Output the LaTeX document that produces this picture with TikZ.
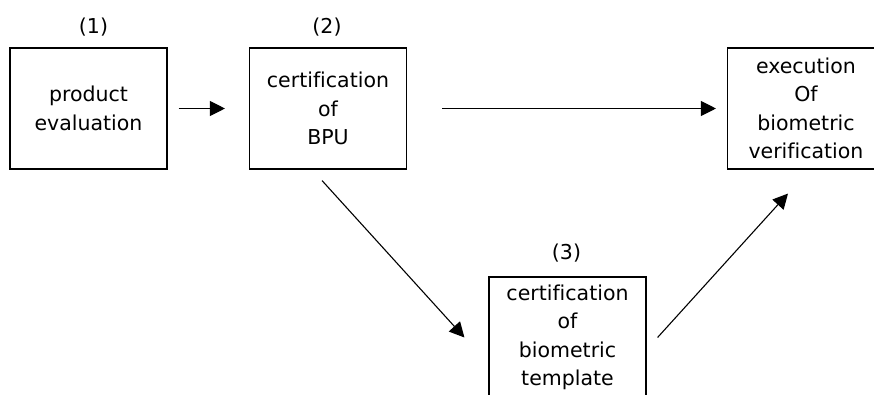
\documentclass[tikz,border=0pt]{standalone}
\usepackage{fontspec}
\setmainfont[Ligatures=NoCommon]{DejaVu Sans}
\usetikzlibrary{arrows.meta,calc}
\tikzset{
  box/.style={draw, line width=1.1pt, minimum width=157pt, minimum height=121pt,
    inner sep=0pt, align=center, font=\fontsize{20.5}{28.5}\selectfont},
  tag/.style={font=\fontsize{20.5}{24}\selectfont, inner sep=0pt},
  arr/.style={line width=1.1pt, -{Triangle[length=15pt,width=15pt]}}
}
\begin{document}
\begin{tikzpicture}[x=1pt,y=-1pt]
  \useasboundingbox (0,0) rectangle (874,394);
  \clip (0,0) rectangle (874,394);
  % process boxes
  \node[box] (b1) at (88.5,108.5) {product\\evaluation};
  \node[box] (b2) at (328,108.5) {certification\\of\\BPU};
  \node[box] (b4) at (806,108.5) {execution\\Of\\biometric\\verification};
  \node[box] (b3) at (567.5,337.5) {certification\\of\\biometric\\template};
  % step numbers
  \node[tag] (n1) at ($(b1.north)+(5,-20)$) {(1)};
  \node[tag] (n2) at ($(b2.north)+(-1,-20)$) {(2)};
  \node[tag] (n3) at ($(b3.north)+(-1,-23)$) {(3)};
  % flow arrows
  \draw[arr] ($(b1.east)+(11,0)$) -- ($(b2.west)+(-24,0)$);
  \draw[arr] ($(b2.east)+(35,0)$) -- ($(b4.west)+(-11,0)$);
  \draw[arr] ($(b2.south)+(-6,11)$) -- ($(b3.west)+(-24,0)$);
  \draw[arr] ($(b3.east)+(11,0)$) -- ($(b4.south)+(-18,24)$);
\end{tikzpicture}
\end{document}
